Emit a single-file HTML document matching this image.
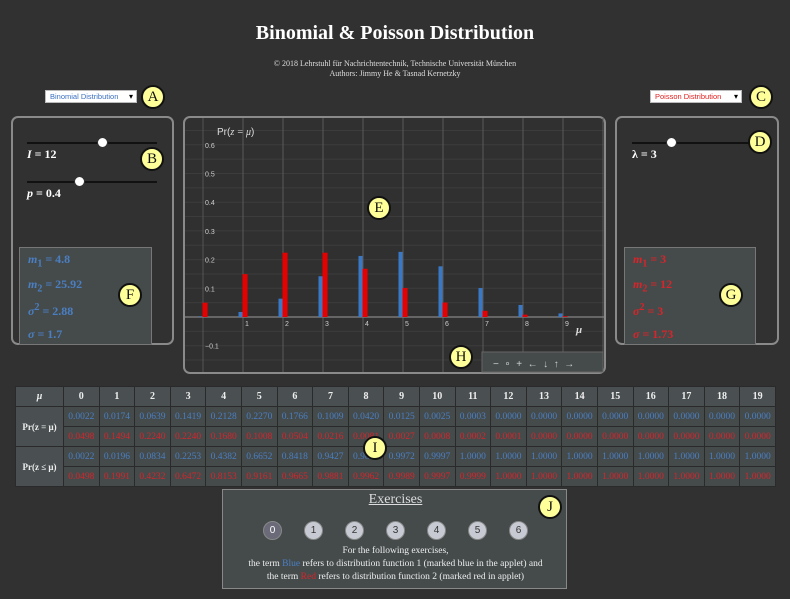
<!DOCTYPE html>
<html><head><meta charset="utf-8">
<style>
*{box-sizing:border-box;margin:0;padding:0}
body{width:790px;height:599px;background:#313131;position:relative;overflow:hidden;font-family:"Liberation Serif",serif;color:#fff}
.abs{position:absolute}
.title{left:0;width:790px;top:22px;text-align:center;font-weight:bold;font-size:20px}
.sub{left:0;width:790px;text-align:center;font-size:8px;color:#ddd}
.sel{height:13px;width:92px;background:#fff;border:1px solid #bbb;font-family:"Liberation Sans",sans-serif;font-size:7.5px;line-height:11px;padding-left:4px}
.sel:after{content:"▾";position:absolute;right:3px;top:0;color:#000;font-size:8px}
.mark{width:24px;height:24px;border-radius:50%;background:#ffff99;border:2px solid #111;color:#111;font-size:15px;text-align:center;line-height:20px}
.panel{border:2px solid #8a8a8a;border-radius:7px}
.stat{background:#454b4b;border:1px solid #777}
.stat div{font-weight:bold;font-size:12px;position:absolute;left:8px}
.stat i,.lbl i{font-style:italic}
.lbl{font-size:12px;font-weight:bold}
.slider{height:2px;background:#111}
.knob{width:11px;height:11px;border-radius:50%;background:#fff;border:1px solid #333;top:-5px}
table{border-collapse:collapse;font-size:9.5px}
td,th{border:1px solid #2a2a2a;text-align:center;height:20px;padding:0}
th{background:#4a5052;font-size:10px;color:#eee}
td{background:#454b4b}
.b{color:#4a7fc4}.r{color:#d8242a}
.ex{background:#454b4b;border:1px solid #888}
.btn{width:19px;height:19px;border-radius:50%;background:#c8cad3;border:1px solid #888;color:#333;font-family:"Liberation Sans",sans-serif;font-size:10px;text-align:center;line-height:17px}
</style></head><body>
<div class="abs title">Binomial &amp; Poisson Distribution</div>
<div class="abs sub" style="top:59px">© 2018 Lehrstuhl für Nachrichtentechnik, Technische Universität München</div>
<div class="abs sub" style="top:69px">Authors: Jimmy He &amp; Tasnad Kernetzky</div>

<div class="abs sel" style="left:45px;top:90px;color:#3a6fc0">Binomial Distribution</div>
<div class="abs mark" style="left:141px;top:85px">A</div>
<div class="abs sel" style="left:650px;top:90px;color:#e02020">Poisson Distribution</div>
<div class="abs mark" style="left:749px;top:85px">C</div>

<div class="abs panel" style="left:11px;top:116px;width:163px;height:229px"></div>
<div class="abs slider" style="left:27px;top:142px;width:130px"><div class="abs knob" style="left:70px"></div></div>
<div class="abs lbl" style="left:27px;top:147px"><i>I</i> = 12</div>
<div class="abs slider" style="left:27px;top:181px;width:130px"><div class="abs knob" style="left:47px"></div></div>
<div class="abs lbl" style="left:27px;top:186px"><i>p</i> = 0.4</div>
<div class="abs mark" style="left:140px;top:147px">B</div>
<div class="abs stat b" style="left:19px;top:247px;width:133px;height:98px">
<div style="top:4px"><i>m</i><sub>1</sub> = 4.8</div><div style="top:29px"><i>m</i><sub>2</sub> = 25.92</div><div style="top:54px"><i>σ</i><sup>2</sup> = 2.88</div><div style="top:79px"><i>σ</i> = 1.7</div></div>
<div class="abs mark" style="left:118px;top:283px">F</div>

<div class="abs panel" style="left:615px;top:116px;width:164px;height:229px"></div>
<div class="abs slider" style="left:632px;top:142px;width:130px"><div class="abs knob" style="left:34px"></div></div>
<div class="abs lbl" style="left:632px;top:147px">λ = 3</div>
<div class="abs mark" style="left:748px;top:130px">D</div>
<div class="abs stat r" style="left:624px;top:247px;width:132px;height:98px">
<div style="top:4px"><i>m</i><sub>1</sub> = 3</div><div style="top:29px"><i>m</i><sub>2</sub> = 12</div><div style="top:54px"><i>σ</i><sup>2</sup> = 3</div><div style="top:79px"><i>σ</i> = 1.73</div></div>
<div class="abs mark" style="left:719px;top:283px">G</div>

<svg class="abs" style="left:0;top:0" width="790" height="599">
<rect x="184" y="117" width="421" height="256" rx="6" fill="#303030" stroke="#8a8a8a" stroke-width="2"/>
<g id="grid"></g><g id="bars"></g><g id="labels" font-family="Liberation Sans, sans-serif" font-size="7" fill="#ccc"></g>
<text x="217" y="135" font-family="Liberation Sans, sans-serif" font-size="10" fill="#ddd">Pr(<tspan font-style="italic" font-family="Liberation Serif, serif">z = μ</tspan>)</text>
<text x="576" y="333" font-style="italic" font-size="11" fill="#ddd" font-weight="bold">μ</text>
<rect x="482" y="352" width="121" height="20" fill="#454b4b" stroke="#666"/>
<text x="493" y="367" font-family="Liberation Sans, sans-serif" font-size="10" fill="#ccc" xml:space="preserve">−  ∘  +  ←  ↓  ↑  →</text>
</svg>
<div class="abs mark" style="left:367px;top:196px">E</div>
<div class="abs mark" style="left:449px;top:345px">H</div>

<table class="abs" style="left:15px;top:386px;width:761px">
<thead><tr id="hdr"><th style="width:48px;font-style:italic">μ</th></tr></thead>
<tbody id="tb"></tbody></table>
<div class="abs mark" style="left:363px;top:436px">I</div>

<div class="abs ex" style="left:222px;top:489px;width:345px;height:100px">
<div class="abs" style="left:0;width:345px;top:2px;text-align:center;font-size:14px;text-decoration:underline;color:#ddd">Exercises</div>
<div id="btns"></div>
<div class="abs" style="left:0;width:345px;top:55px;text-align:center;font-size:9.5px;line-height:13px;color:#eee">For the following exercises,<br>the term <span class="b">Blue</span> refers to distribution function 1 (marked blue in the applet) and<br>the term <span class="r">Red</span> refers to distribution function 2 (marked red in applet)</div>
</div>
<div class="abs mark" style="left:538px;top:495px">J</div>

<script>
const mus=[0,1,2,3,4,5,6,7,8,9,10,11,12,13,14,15,16,17,18,19];
const binPmf=[0.0022,0.0174,0.0639,0.1419,0.2128,0.2270,0.1766,0.1009,0.0420,0.0125,0.0025,0.0003,0,0,0,0,0,0,0,0];
const poiPmf=[0.0498,0.1494,0.2240,0.2240,0.1680,0.1008,0.0504,0.0216,0.0081,0.0027,0.0008,0.0002,0.0001,0,0,0,0,0,0,0];
const binCdf=[0.0022,0.0196,0.0834,0.2253,0.4382,0.6652,0.8418,0.9427,0.9847,0.9972,0.9997,1,1,1,1,1,1,1,1,1];
const poiCdf=[0.0498,0.1991,0.4232,0.6472,0.8153,0.9161,0.9665,0.9881,0.9962,0.9989,0.9997,0.9999,1,1,1,1,1,1,1,1];
const yTicks=[-0.1,0.1,0.2,0.3,0.4,0.5,0.6];
const xTicks=[1,2,3,4,5,6,7,8,9];
const NS='http://www.w3.org/2000/svg';
const X=v=>203+v*40, Y=v=>317-v*287;
const grid=document.getElementById('grid'),bars=document.getElementById('bars'),lab=document.getElementById('labels');
function mk(tag,a,p){const e=document.createElementNS(NS,tag);for(const k in a)e.setAttribute(k,a[k]);p.appendChild(e);return e;}
for(let v=-0.15;v<=0.68;v+=0.05){const y=Y(v);if(y<118||y>372)continue;
 const l=mk('line',{x1:185,x2:604,y1:y,y2:y,stroke:'#3c3c3c','stroke-width':1},grid);
 
 }
for(let k=0;k<=10;k++){const l=mk('line',{x1:X(k),x2:X(k),y1:118,y2:372,stroke:k==0?'#555':'#5a5a5a','stroke-width':1},grid);
 
 }
const ax=mk('line',{x1:185,x2:604,y1:Y(0),y2:Y(0),stroke:'#777','stroke-width':1.5},grid);


yTicks.forEach(t=>{const e=mk('text',{x:205,y:Y(t)+3},lab);e.textContent=(t<0?'−':'')+Math.abs(t).toFixed(1);
 
 });
xTicks.forEach(t=>{const e=mk('text',{x:X(t)+2,y:Y(0)+9},lab);e.textContent=t;
 
 });
mus.forEach((m,i)=>{if(X(m)>600)return;
 const hb=Y(0)-Y(binPmf[i]);
 const b=mk('rect',{x:X(m)-4.5,y:Y(binPmf[i]),width:4,height:Math.max(hb,0),fill:'#3a78c4'},bars);
 
 
 const hr=Y(0)-Y(poiPmf[i]);
 const r=mk('rect',{x:X(m)-0.5,y:Y(poiPmf[i]),width:5,height:Math.max(hr,0),fill:'#e80000'},bars);
 
 });
const hdr=document.getElementById('hdr');
mus.forEach(m=>{const th=document.createElement('th');th.textContent=m;
 
 
 hdr.appendChild(th);});
const tb=document.getElementById('tb');
[[binPmf,'b','Pr(z = μ)'],[poiPmf,'r',null],[binCdf,'b','Pr(z ≤ μ)'],[poiCdf,'r',null]].forEach(([arr,c,lbl])=>{
 const tr=document.createElement('tr');
 if(lbl){const th=document.createElement('th');th.rowSpan=2;th.textContent=lbl;th.style.fontSize='9px';
  
  
  tr.appendChild(th);}
 arr.forEach(v=>{const td=document.createElement('td');td.className=c;td.textContent=v.toFixed(4);
  
  
  tr.appendChild(td);});
 tb.appendChild(tr);});
const bw=document.getElementById('btns');
for(let i=0;i<7;i++){const d=document.createElement('div');d.className='abs btn';d.style.left=(40+i*41)+'px';d.style.top='31px';d.textContent=i;
 if(i==0){d.style.background='#6a6a78';d.style.color='#fff';}
 
 
 bw.appendChild(d);}
</script>
</body></html>
